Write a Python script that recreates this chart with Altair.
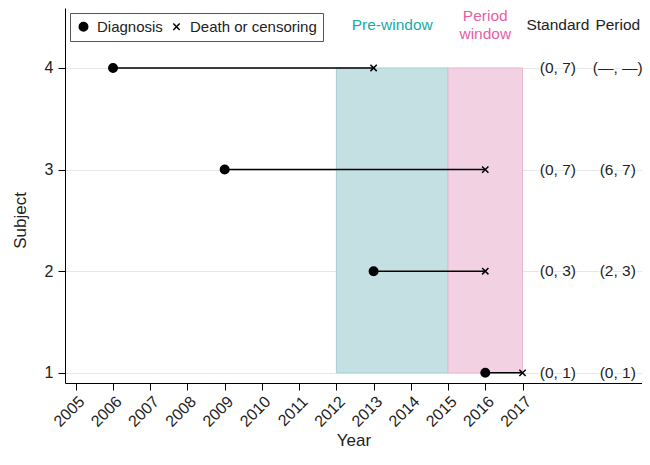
import altair as alt
import pandas as pd

# ---- data ----
subjects = [1, 2, 3, 4]
diagnosis_year = [2016, 2013, 2009, 2006]
end_year = [2017, 2016, 2016, 2013]
standard_labels = ["(0, 1)", "(0, 3)", "(0, 7)", "(0, 7)"]
period_labels = ["(0, 1)", "(2, 3)", "(6, 7)", "(\u2014, \u2014)"]

window_names = ["Pre-window", "Period window"]
window_start = [2012, 2015]
window_end = [2015, 2017]
window_fill = ["#c5e0e3", "#f2d1e3"]
window_stroke = ["#a3d0d4", "#e8b8d2"]
window_text = ["Pre-window", "Period\nwindow"]
window_text_color = ["#1aa8aa", "#e85ea6"]

column_names = ["Standard", "Period"]
column_x = [2017.95, 2019.56]
header_y = 4.42

year_ticks = list(range(2005, 2018))
event_types = ["Diagnosis", "Death or censoring"]

FONT = "Liberation Sans"
TXT = 15.5

# ---- tables ----
seg = pd.DataFrame({"subject": subjects, "start": diagnosis_year, "end": end_year})
events = pd.concat([
    pd.DataFrame({"subject": subjects, "year": diagnosis_year, "event": event_types[0]}),
    pd.DataFrame({"subject": subjects, "year": end_year, "event": event_types[1]}),
])
win = pd.DataFrame({"name": window_names, "start": window_start, "end": window_end,
                    "y0": [1, 1], "y1": [4, 4]})
labels = pd.concat([
    pd.DataFrame({"subject": subjects, "x": column_x[0], "label": standard_labels}),
    pd.DataFrame({"subject": subjects, "x": column_x[1], "label": period_labels}),
])
all_x = [(s + e) / 2 for s, e in zip(window_start, window_end)] + column_x
all_text = window_text + column_names
all_color = window_text_color + ["#222222", "#222222"]
headers = pd.DataFrame({"x": all_x, "y": [header_y] * 4, "text": all_text, "color": all_color})
headers["lines"] = headers["text"].str.count("\n") + 1

xscale = alt.Scale(domain=[2004.71, 2020.21], nice=False, zero=False)
yscale = alt.Scale(domain=[0.9, 4.59], nice=False, zero=False)

xaxis = alt.Axis(values=year_ticks, format="d", grid=False, labelAngle=-45,
                 labelAlign="right", labelBaseline="top", labelPadding=3,
                 labelFontSize=16, tickSize=7, title="Year", titleFontSize=17,
                 titleFontWeight="normal", titleY=62, titleBaseline="alphabetic")
yaxis = alt.Axis(values=[1, 2, 3, 4], format="d", grid=True, gridColor="#e6e6e6",
                 labelFontSize=16, tickSize=7, labelPadding=5, title="Subject",
                 titleFontSize=17, titleFontWeight="normal", titleY=212, titleX=-40,
                 titleBaseline="alphabetic")

X = lambda f: alt.X(f, scale=xscale, axis=xaxis)
Y = lambda f: alt.Y(f, scale=yscale, axis=yaxis)

rect_layers = []
for name, fcol, scol in zip(window_names, window_fill, window_stroke):
    rect_layers.append(
        alt.Chart(win).transform_filter(alt.datum.name == name).mark_rect(
            fill=fcol, stroke=scol, strokeWidth=1).encode(
            x=X("start:Q"), x2="end:Q", y=Y("y0:Q"), y2="y1:Q",
        )
    )

segments = alt.Chart(seg).mark_rule(color="black", strokeWidth=1.5).encode(
    x=X("start:Q"), x2="end:Q", y=Y("subject:Q"),
)

cross = "M-1,-1L1,1M1,-1L-1,1"
points = alt.Chart(events).mark_point(strokeWidth=1.5, opacity=1).encode(
    x=X("year:Q"), y=Y("subject:Q"),
    shape=alt.Shape("event:N", scale=alt.Scale(domain=event_types, range=["circle", cross]), title=None),
    fill=alt.Fill("event:N", scale=alt.Scale(domain=event_types, range=["black", "transparent"]), title=None),
    stroke=alt.Stroke("event:N", scale=alt.Scale(domain=event_types, range=["black", "black"]), title=None),
    size=alt.Size("event:N", scale=alt.Scale(domain=event_types, range=[72, 40]), title=None),
)

halo = alt.Chart(labels).mark_text(font=FONT, fontSize=TXT, stroke="white", strokeWidth=3,
                                   fill="white").encode(
    x=X("x:Q"), y=Y("subject:Q"), text="label:N",
)
texts = alt.Chart(labels).mark_text(font=FONT, fontSize=TXT, color="#222222").encode(
    x=X("x:Q"), y=Y("subject:Q"), text="label:N",
)
head1 = alt.Chart(headers).transform_filter("datum.lines == 1").mark_text(
    font=FONT, fontSize=TXT).encode(
    x=X("x:Q"), y=Y("y:Q"), text="text:N", color=alt.Color("color:N", scale=None),
)
head2 = alt.Chart(headers).transform_filter("datum.lines == 2").mark_text(
    font=FONT, fontSize=TXT, lineBreak="\n", lineHeight=18, dy=-9).encode(
    x=X("x:Q"), y=Y("y:Q"), text="text:N", color=alt.Color("color:N", scale=None),
)

chart = alt.layer(*rect_layers, segments, points, halo, texts, head1, head2).properties(
    width=577, height=375,
    autosize=alt.AutoSizeParams(type="none"),
    padding={"left": 57, "top": 0, "right": 0, "bottom": 67},
).configure_view(stroke=None).configure_axis(
    labelFont=FONT, titleFont=FONT, domainColor="black", tickColor="black",
    labelColor="#222222", titleColor="#222222", domainWidth=1,
).configure_legend(
    orient="top-left", direction="horizontal", offset=5, padding=6,
    strokeColor="#555555", fillColor="white", labelFont=FONT, labelFontSize=15,
    labelColor="#222222", symbolStrokeWidth=1.5,
    labelOffset=6, columnPadding=6,
)

chart.save("out.html", embed_options={"renderer": "svg", "actions": False})
